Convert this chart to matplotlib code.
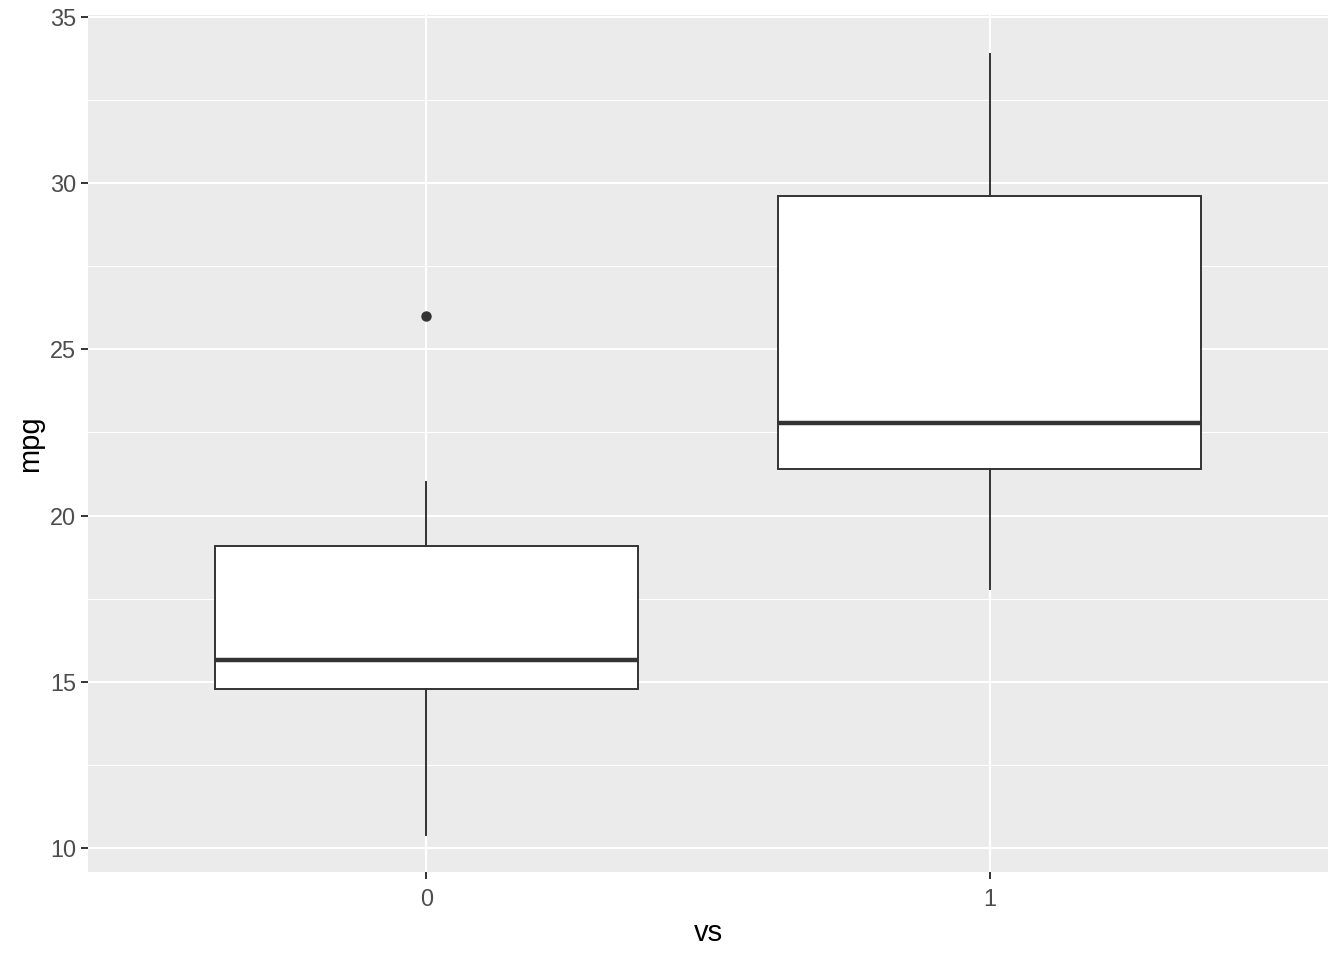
import matplotlib
matplotlib.use("Agg")
import matplotlib.pyplot as plt
import numpy as np

# mtcars mpg split by engine shape (vs)
categories = ["0", "1"]
mpg_vs0 = [21.0, 21.0, 18.7, 14.3, 16.4, 17.3, 15.2, 10.4, 10.4, 14.7,
           15.5, 15.2, 13.3, 19.2, 26.0, 15.8, 19.7, 15.0]
mpg_vs1 = [22.8, 21.4, 18.1, 24.4, 22.8, 19.2, 17.8, 32.4, 30.4, 33.9,
           21.5, 27.3, 30.4, 21.4]
y_ticks = [10, 15, 20, 25, 30, 35]

plt.rcParams['font.family'] = ['Liberation Sans', 'DejaVu Sans']

fig = plt.figure(figsize=(13.44, 9.6), dpi=100)
ax = fig.add_axes([88 / 1344, 1 - 872 / 960, 1240 / 1344, 857 / 960])

ax.set_facecolor('#EBEBEB')
for s in ax.spines.values():
    s.set_visible(False)

# grid like ggplot theme_gray
ax.set_axisbelow(True)
ax.set_yticks(y_ticks)
ax.set_yticks([12.5, 17.5, 22.5, 27.5, 32.5], minor=True)
ax.grid(which='major', axis='both', color='white', linewidth=1.5)
ax.grid(which='minor', axis='y', color='white', linewidth=0.75)
ax.tick_params(which='minor', length=0)

pos = [1, 2]
edge = '#333333'
ax.boxplot([mpg_vs0, mpg_vs1], positions=pos, widths=0.75, whis=1.5,
           patch_artist=True,
           boxprops=dict(facecolor='white', edgecolor=edge, linewidth=1.4),
           medianprops=dict(color=edge, linewidth=3.2, solid_capstyle='butt'),
           whiskerprops=dict(color=edge, linewidth=1.4),
           capprops=dict(linewidth=0),
           flierprops=dict(marker='o', markerfacecolor=edge, markeredgecolor=edge,
                           markersize=6.5))

ax.set_xlim(0.4, 2.6)
ax.set_ylim(9.278, 35.06)
ax.set_xticks(pos)
ax.set_xticklabels(categories)

ax.tick_params(which='major', length=5.3, width=1.4, color='#333333',
               labelcolor='#4D4D4D', labelsize=16.9, pad=3.5)
ax.tick_params(axis='x', pad=6)

ax.set_xlabel('vs', fontsize=21, color='black', labelpad=6)
ax.set_ylabel('mpg', fontsize=21, color='black', labelpad=4)

fig.savefig('out.png', dpi=100)
